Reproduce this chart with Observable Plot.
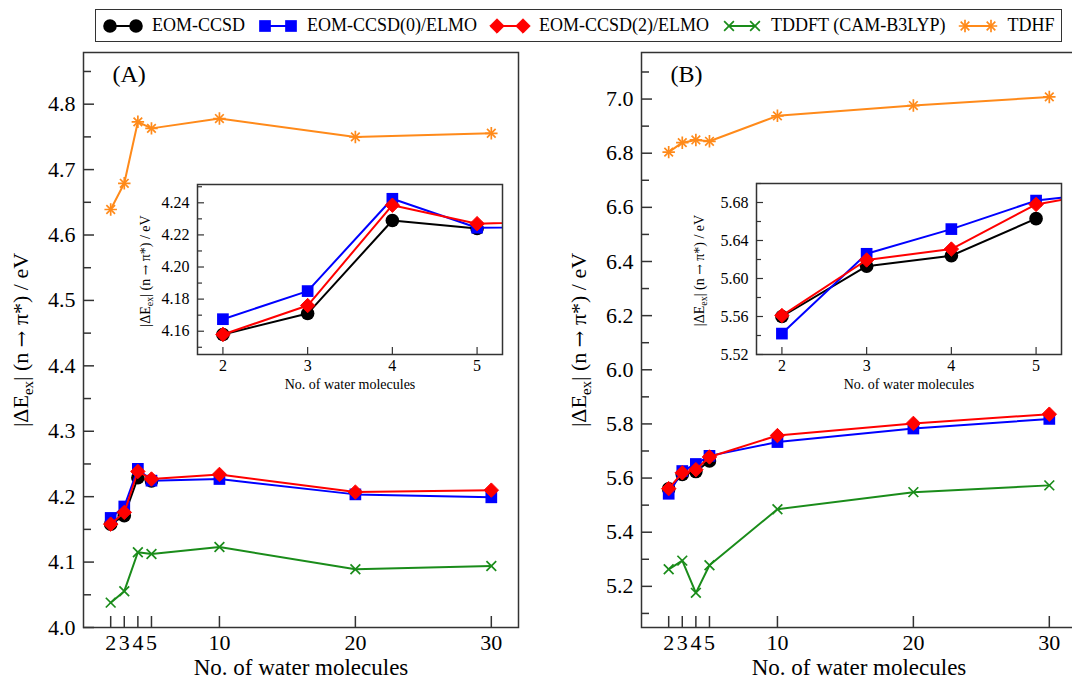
<!DOCTYPE html>
<html>
<head>
<meta charset="utf-8">
<script src="https://cdn.jsdelivr.net/npm/d3@7"></script>
<script src="https://cdn.jsdelivr.net/npm/@observablehq/plot@0.6"></script>
<style>
  html, body { margin: 0; padding: 0; background: #fff; overflow: hidden; }
  #root { position: relative; width: 1072px; height: 679px; overflow: hidden; font-family: "Liberation Serif", "Times New Roman", serif; background: #fff; }
  #root > svg { position: absolute; }
  #legend { position: absolute; left: 95px; top: 9px; width: 967px; height: 33px; box-sizing: border-box;
            border: 1.5px solid #333; display: flex; align-items: center; padding-left: 6px; gap: 12px; background: #fff; }
  .item { display: flex; align-items: center; font-size: 18px; color: #000; white-space: nowrap; }
  .item svg { display: block; margin-right: 8px; }
</style>
</head>
<body>
<div id="root">
  <div id="legend"></div>
</div>
<script>
// ---------------- data ----------------
const nAll = [2, 3, 4, 5, 10, 20, 30];
const methods = ["EOM-CCSD", "EOM-CCSD(0)/ELMO", "EOM-CCSD(2)/ELMO", "TDDFT (CAM-B3LYP)", "TDHF"];

// Panel (A)
const eomA   = [4.158, 4.171, 4.229, 4.224];
const elmo0A = [4.1675, 4.185, 4.2425, 4.2245, 4.227, 4.2035, 4.199];
const elmo2A = [4.158, 4.176, 4.2385, 4.227, 4.234, 4.207, 4.210];
const tddftA = [4.038, 4.0555, 4.115, 4.1125, 4.123, 4.089, 4.094];
const tdhfA  = [4.639, 4.679, 4.773, 4.763, 4.778, 4.750, 4.7555];

// Panel (B)
const eomB   = [5.560, 5.613, 5.624, 5.663];
const elmo0B = [5.542, 5.626, 5.652, 5.682, 5.733, 5.783, 5.8185];
const elmo2B = [5.561, 5.6195, 5.631, 5.678, 5.757, 5.802, 5.836];
const tddftB = [5.263, 5.295, 5.176, 5.278, 5.485, 5.548, 5.573];
const tdhfB  = [6.804, 6.839, 6.849, 6.844, 6.938, 6.976, 7.008];

// ticks
const xTicksMain  = [2, 3, 4, 5, 10, 20, 30];
const xTicksInset = [2, 3, 4, 5];
const yTicksA  = [4.0, 4.1, 4.2, 4.3, 4.4, 4.5, 4.6, 4.7, 4.8];
const yMinorA  = [4.05, 4.15, 4.25, 4.35, 4.45, 4.55, 4.65, 4.75, 4.85];
const yTicksB  = [5.2, 5.4, 5.6, 5.8, 6.0, 6.2, 6.4, 6.6, 6.8, 7.0];
const yMinorB  = [5.1, 5.3, 5.5, 5.7, 5.9, 6.1, 6.3, 6.5, 6.7, 6.9, 7.1];
const yTicksIA = [4.16, 4.18, 4.20, 4.22, 4.24];
const yMinorIA = [4.15, 4.17, 4.19, 4.21, 4.23, 4.25];
const yTicksIB = [5.52, 5.56, 5.60, 5.64, 5.68];
const yMinorIB = [5.54, 5.58, 5.62, 5.66, 5.70];

// ---------------- styles ----------------
const colors = ["#000000", "#0000ff", "#ff0000", "#1a8c1a", "#ff8a1a"];
const symbolSets = [
  [{symbol: "circle", r: 6.8, fill: true}],
  [{symbol: "square", r: 6.6, fill: true}],
  [{symbol: "diamond2", r: 6.5, fill: true, stroke: true}],
  [{symbol: "times", r: 4.5}],
  [{symbol: "plus", r: 4.1}, {symbol: "times", r: 4.0}]
];
const ink = "#333";
const FONT = "Liberation Serif";

function toRows(seriesList) {
  const rows = [];
  seriesList.forEach((vals, i) => vals.forEach((v, j) => rows.push({method: methods[i], n: nAll[j], v})));
  return rows;
}
const rowsA = toRows([eomA, elmo0A, elmo2A, tddftA, tdhfA]);
const rowsB = toRows([eomB, elmo0B, elmo2B, tddftB, tdhfB]);

function seriesMarks(rows, which, clip) {
  const out = [];
  which.forEach(i => {
    const d = rows.filter(r => r.method === methods[i]);
    out.push(Plot.line(d, {x: "n", y: "v", stroke: colors[i], strokeWidth: 2, clip}));
    symbolSets[i].forEach(s => {
      out.push(Plot.dot(d, {
        x: "n", y: "v", symbol: s.symbol, r: s.r,
        fill: s.fill ? colors[i] : "none",
        stroke: s.fill && !s.stroke ? "none" : colors[i],
        strokeWidth: s.fill ? 1 : 1.7, clip
      }));
    });
  });
  return out;
}

function addYTitle(svg, x, y, size, subSize, shift) {
  const t = d3.select(svg).append("text")
    .attr("transform", `translate(${x},${y}) rotate(-90)`)
    .attr("text-anchor", "middle")
    .attr("font-family", FONT)
    .attr("font-size", size)
    .attr("fill", "#000");
  t.append("tspan").text("|\u0394E");
  t.append("tspan").attr("font-size", subSize).attr("dy", shift).text("ex");
  t.append("tspan").attr("dy", -shift).text("| (n ");
  t.append("tspan").attr("font-family", "DejaVu Serif").attr("font-size", size * 0.9).text("\u2192");
  t.append("tspan").text(" \u03c0*) / eV");
}

function mainPanel({rows, yDomain, yMajor, yMinor, tag, left}) {
  const W = 540, H = 679, mL = 83, mR = 22, mT = 52, mB = 52;
  const pw = W - mL - mR, ph = H - mT - mB;
  const svg = Plot.plot({
    width: W, height: H, marginLeft: mL, marginRight: mR, marginTop: mT, marginBottom: mB,
    x: {domain: [0, 32]},
    y: {domain: yDomain},
    style: {fontFamily: FONT, fontSize: "22px", background: "transparent", color: "#000", overflow: "visible"},
    marks: [
      Plot.frame({stroke: ink, strokeWidth: 1.5}),
      Plot.tickY(yMajor, {y: d => d, stroke: ink, strokeWidth: 1.5, insetRight: pw - 11}),
      Plot.tickY(yMinor, {y: d => d, stroke: ink, strokeWidth: 1.5, insetRight: pw - 8}),
      Plot.tickX(xTicksMain, {x: d => d, stroke: ink, strokeWidth: 1.5, insetTop: ph - 11}),
      Plot.axisY(yMajor, {tickSize: 0, tickPadding: 8, tickFormat: d3.format(".1f"), fontSize: 22, label: null}),
      Plot.axisX(xTicksMain, {tickSize: 0, tickPadding: 7, tickFormat: d3.format("d"), fontSize: 22, label: null}),
      Plot.text(["No. of water molecules"], {frameAnchor: "bottom", dy: 40, fontSize: 23, lineAnchor: "middle"}),
      Plot.text([tag], {frameAnchor: "top-left", dx: 29, dy: 22, fontSize: 24, textAnchor: "start", lineAnchor: "middle"}),
      ...seriesMarks(rows, [0, 1, 2, 3, 4], false)
    ]
  });
  svg.style.position = "absolute";
  svg.style.left = left + "px";
  svg.style.top = "0px";
  svg.style.maxWidth = "none";
  addYTitle(svg, 28, 340, 22, 15, 5);
  return svg;
}

function insetPanel({rows, yDomain, yMajor, yMinor, x0, x1, y0, y1, titleX}) {
  const mL = 75, mR = 12, mT = 14, mB = 44;
  const W = (x1 - x0) + mL + mR, H = (y1 - y0) + mT + mB;
  const pw = x1 - x0, ph = y1 - y0;
  const svg = Plot.plot({
    width: W, height: H, marginLeft: mL, marginRight: mR, marginTop: mT, marginBottom: mB,
    x: {domain: [1.7, 5.3]},
    y: {domain: yDomain},
    style: {fontFamily: FONT, fontSize: "16px", background: "transparent", color: "#000", overflow: "visible"},
    marks: [
      ...seriesMarks(rows.filter(r => r.method !== methods[3] && r.method !== methods[4]), [0, 1, 2], true),
      Plot.frame({stroke: ink, strokeWidth: 1.5}),
      Plot.tickY(yMajor, {y: d => d, stroke: ink, strokeWidth: 1.2, insetRight: pw - 7}),
      Plot.tickY(yMinor, {y: d => d, stroke: ink, strokeWidth: 1.2, insetRight: pw - 5}),
      Plot.tickX(xTicksInset, {x: d => d, stroke: ink, strokeWidth: 1.2, insetTop: ph - 7}),
      Plot.axisY(yMajor, {tickSize: 0, tickPadding: 8, tickFormat: d3.format(".2f"), fontSize: 16, label: null}),
      Plot.axisX(xTicksInset, {tickSize: 0, tickPadding: 5, tickFormat: d3.format("d"), fontSize: 16, label: null}),
      Plot.text(["No. of water molecules"], {frameAnchor: "bottom", dy: 30, fontSize: 14, lineAnchor: "middle"})
    ]
  });
  svg.style.position = "absolute";
  svg.style.left = (x0 - mL) + "px";
  svg.style.top = (y0 - mT) + "px";
  svg.style.maxWidth = "none";
  addYTitle(svg, mL - titleX, mT + ph / 2 + 2, 14, 10, 3);
  return svg;
}

const root = document.getElementById("root");
root.appendChild(mainPanel({rows: rowsA, yDomain: [4.0, 4.879], yMajor: yTicksA, yMinor: yMinorA, tag: "(A)", left: 0}));
root.appendChild(mainPanel({rows: rowsB, yDomain: [5.048, 7.172], yMajor: yTicksB, yMinor: yMinorB, tag: "(B)", left: 558}));
root.appendChild(insetPanel({rows: rowsA, yDomain: [4.1455, 4.2514], yMajor: yTicksIA, yMinor: yMinorIA, x0: 197, x1: 502, y0: 184, y1: 354, titleX: 47}));
root.appendChild(insetPanel({rows: rowsB, yDomain: [5.52, 5.70], yMajor: yTicksIB, yMinor: yMinorIB, x0: 756, x1: 1061, y0: 183, y1: 354, titleX: 52}));

// ---------------- legend ----------------
const legend = document.getElementById("legend");
const symMap = {circle: d3.symbolCircle, square: d3.symbolSquare, diamond2: d3.symbolDiamond2, times: d3.symbolTimes, plus: d3.symbolPlus};
methods.forEach((m, i) => {
  const item = document.createElement("div");
  item.className = "item";
  const sw = d3.create("svg").attr("width", 42).attr("height", 20);
  sw.append("line").attr("x1", 8).attr("x2", 34).attr("y1", 10).attr("y2", 10)
    .attr("stroke", colors[i]).attr("stroke-width", 2);
  [8, 34].forEach(cx => {
    symbolSets[i].forEach(s => {
      const p = d3.symbol(symMap[s.symbol], s.r * s.r * Math.PI)();
      sw.append("path").attr("d", p).attr("transform", `translate(${cx},10)`)
        .attr("fill", s.fill ? colors[i] : "none")
        .attr("stroke", s.fill && !s.stroke ? "none" : colors[i])
        .attr("stroke-width", s.fill ? 1 : 1.7);
    });
  });
  item.appendChild(sw.node());
  const span = document.createElement("span");
  span.textContent = m;
  item.appendChild(span);
  legend.appendChild(item);
});
</script>
</body>
</html>
